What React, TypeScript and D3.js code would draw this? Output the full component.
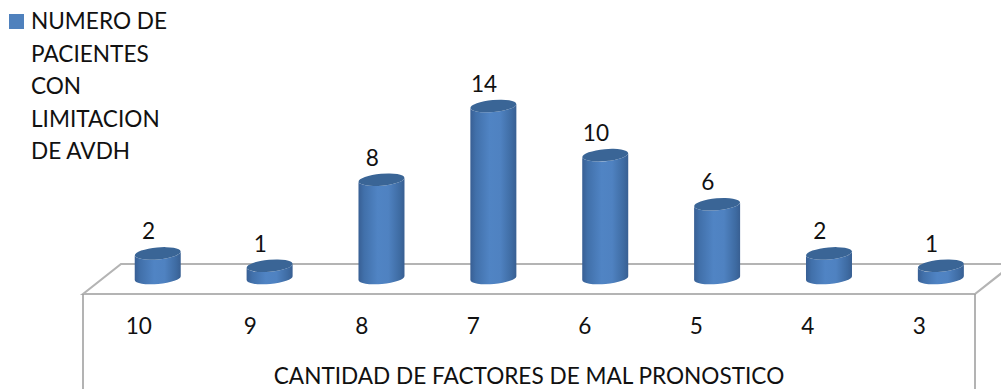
import React from "react";
import * as d3 from "d3";

const categories = ["10", "9", "8", "7", "6", "5", "4", "3"];
const patients = [2, 1, 8, 14, 10, 6, 2, 1];
const legendLines = ["NUMERO DE", "PACIENTES", "CON", "LIMITACION", "DE AVDH"];
const axisTitle = "CANTIDAD DE FACTORES DE MAL PRONOSTICO";

const WIDTH = 1001;
const HEIGHT = 389;
const FONT = "Lato, Carlito, 'Open Sans', sans-serif";
const FONT_SIZE = 22.6;

const floorLeft = 83;
const floorRight = 975;
const floorFront = 294;
const floorBack = 264;
const depthX = 38;

const TILT = -5;
const RX = 23;
const RY = 6;

// Category labels sit on the front edge of the floor; the cylinders stand further back.
const x = d3.scaleBand<string>().domain(categories).range([floorLeft, floorRight]);
const xBars = d3.scaleBand<string>().domain(categories).range([101.8, 996.8]);
const y = d3.scaleLinear().domain([0, 14]).range([278, 106]);

// One tilted cylinder: side wall plus the darker cap on top.
function Cylinder({ cx, top, base }: { cx: number; top: number; base: number }) {
  const dy = RX * Math.sin((-TILT * Math.PI) / 180);
  const body = d3.path();
  body.moveTo(cx - RX, top + dy);
  body.lineTo(cx - RX, base + dy);
  const wall =
    `${body.toString()} A${RX} ${RY} ${TILT} 0 0 ${cx + RX} ${base - dy} ` +
    `L${cx + RX} ${top - dy} A${RX} ${RY} ${TILT} 0 1 ${cx - RX} ${top + dy} Z`;
  return (
    <g>
      <path d={wall} fill="url(#wall)" />
      <ellipse
        cx={cx}
        cy={top}
        rx={RX}
        ry={RY}
        fill="#3a6596"
        transform={`rotate(${TILT} ${cx} ${top})`}
      />
    </g>
  );
}

export default function App() {
  const band = x.bandwidth();
  const barBand = xBars.bandwidth();
  const grey = "#b4b4b4";
  return (
    <svg
      width={WIDTH}
      height={HEIGHT}
      viewBox={`0 0 ${WIDTH} ${HEIGHT}`}
      style={{ position: "absolute", left: 0, top: 0, background: "#fff" }}
      fontFamily={FONT}
      fill="#111"
    >
      <defs>
        <linearGradient id="wall" x1="0" x2="1" y1="0" y2="0">
          <stop offset="0" stopColor="#385f94" />
          <stop offset="0.12" stopColor="#4170aa" />
          <stop offset="0.42" stopColor="#5084c4" />
          <stop offset="0.65" stopColor="#4f82c1" />
          <stop offset="0.9" stopColor="#3e6ba2" />
          <stop offset="1" stopColor="#385f92" />
        </linearGradient>
      </defs>

      {/* Floor of the 3D plot and its two front walls */}
      <g fill="none" stroke={grey} strokeWidth={2.2}>
        <path d={`M${floorLeft} ${floorFront} L${floorLeft + depthX} ${floorBack} L${floorRight + depthX} ${floorBack} L${floorRight} ${floorFront} Z`} />
      </g>
      <g stroke="#a0a0a0" strokeWidth={1.6}>
        <line x1={floorLeft} x2={floorLeft} y1={floorFront} y2={HEIGHT} />
        <line x1={floorRight} x2={floorRight} y1={floorFront} y2={HEIGHT} />
      </g>

      {categories.map((c, i) => {
        const mid = x(c)! + band / 2;
        const barMid = xBars(c)! + barBand / 2;
        return (
          <g key={c}>
            <Cylinder cx={barMid} top={y(patients[i])} base={y(0)} />
            <text x={barMid - 9.3} y={y(patients[i]) - 14} textAnchor="middle" fontSize={FONT_SIZE}>
              {patients[i]}
            </text>
            <text x={mid} y={334} textAnchor="middle" fontSize={FONT_SIZE}>
              {c}
            </text>
          </g>
        );
      })}

      <text x={(floorLeft + floorRight) / 2} y={384} textAnchor="middle" fontSize={FONT_SIZE}>
        {axisTitle}
      </text>

      <rect x={9} y={14} width={15} height={15} fill="#4f81bd" />
      {legendLines.map((line, i) => (
        <text key={line} x={31} y={29 + i * 32.5} fontSize={FONT_SIZE}>
          {line}
        </text>
      ))}
    </svg>
  );
}
